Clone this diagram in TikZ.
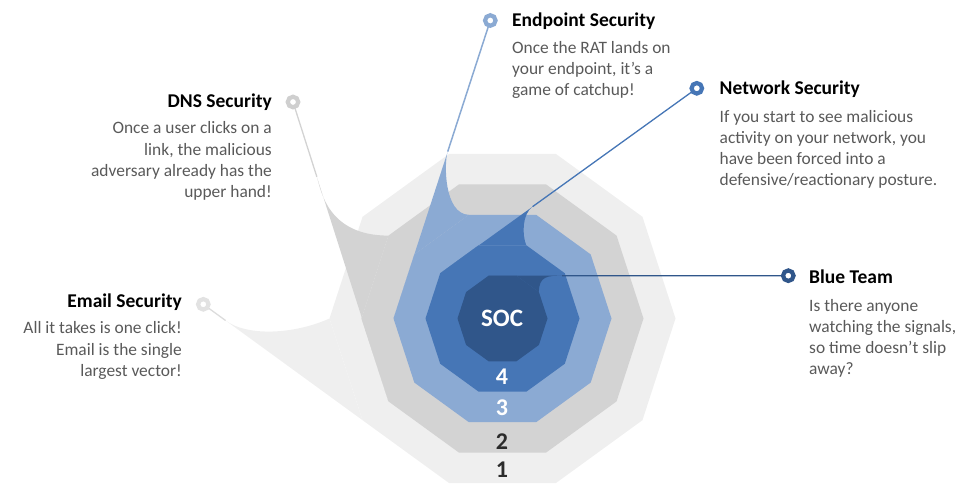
\documentclass[tikz,border=0pt]{standalone}
\usepackage{fontspec}
\setmainfont{Carlito}
\usepackage{xcolor}
\usepackage{tikz}
\usetikzlibrary{calc}

\definecolor{lvla}{HTML}{EFEFEF}
\definecolor{lvlb}{HTML}{D3D3D3}
\definecolor{lvlc}{HTML}{8BAAD3}
\definecolor{lvld}{HTML}{4676B6}
\definecolor{lvle}{HTML}{30568A}
\definecolor{ringa}{HTML}{E2E2E2}
\definecolor{ringb}{HTML}{CFCFCF}
\definecolor{txtgray}{HTML}{595959}
\definecolor{numgray}{HTML}{2B2B2B}

\newcommand\layer[2]{\fill[#2] (#10) \foreach \k in {1,...,9}{ -- (#1\k)} -- cycle;}

\begin{document}
\begin{tikzpicture}[x=1pt, y=1pt,
  ring/.style={circle, fill=white, line width=4.2pt, minimum size=10.5pt, inner sep=0pt},
  title/.style={font=\fontsize{19.5}{23}\selectfont\bfseries, text=black, inner sep=0pt},
  body/.style={font=\fontsize{17.4}{21.1}\selectfont, text=txtgray, inner sep=0pt},
  num/.style={font=\fontsize{24}{24}\selectfont\bfseries, inner sep=0pt}]
  \useasboundingbox (0,0) rectangle (976,497);

  % centre, ring spots and the corners of the five decagons
  \coordinate (C) at (502.5,178.5);
  \coordinate (em) at (203.3,192.7);
  \coordinate (dn) at (293,395);
  \coordinate (ep) at (490.3,476.5);
  \coordinate (nw) at (696.8,408.7);
  \coordinate (bt) at (788.3,221.3);
  \foreach \n/\r in {a/173,b/141,c/109,d/77,e/45}
    \foreach \k in {0,...,9}
      \coordinate (\n\k) at ($(C)+({36*\k}:\r)$);

  % layer 1 + email tail
  \layer{a}{lvla}
  \coordinate (Sem) at ($(em)!0.14!(a6)$);
  \fill[lvla] (em) -- (a6) -- (a5) .. controls (295,163) and (248,160) .. (Sem) -- cycle;
  \draw[lvla!92!black, line width=1.3pt] (em) -- (Sem);

  % layer 2 + dns tail
  \layer{b}{lvlb}
  \coordinate (Sdn) at ($(dn)!0.25!(b6)$);
  \fill[lvlb] (dn) -- (b6) -- (b5) -- (b4) .. controls (328,261.4) and (321,306) .. (Sdn) -- cycle;
  \draw[lvlb, line width=1.3pt] (dn) -- (Sdn);

  % layer 3 + endpoint tail
  \layer{c}{lvlc}
  \coordinate (Sep) at ($(ep)!0.44!(c5)$);
  \fill[lvlc] (ep) -- (c5) -- (c4) -- (c3) .. controls (444,283) and (443.9,333.8) .. (Sep) -- cycle;
  \draw[lvlc, line width=1.5pt] (ep) -- (Sep);

  % layer 4 + network tail
  \layer{d}{lvld}
  \coordinate (Snw) at ($(nw)!0.64!(d4)$);
  \fill[lvld] (nw) -- (d4) -- (d3) -- (d2) .. controls (522,262) and (522,282.8) .. (Snw) -- cycle;
  \draw[lvld, line width=1.3pt] (nw) -- (Snw);

  % soc + blue team tail
  \layer{e}{lvle}
  \coordinate (Sbt) at ($(bt)!0.755!(e3)$);
  \fill[lvle] (bt) -- (e3) -- (e2) -- (e1) .. controls (538.9,221) and (548,221.3) .. (Sbt) -- cycle;
  \draw[lvle, line width=1.3pt] (bt) -- (Sbt);

  % rings
  \node[ring, draw=ringa] (emR) at (em) {};
  \node[ring, draw=ringb] (dnR) at (dn) {};
  \node[ring, draw=lvlc] (epR) at (ep) {};
  \node[ring, draw=lvld] (nwR) at (nw) {};
  \node[ring, draw=lvle] (btR) at (bt) {};

  % labels in the middle
  \node[num, text=white, font=\fontsize{25}{25}\selectfont\bfseries] (soc) at (502,179) {SOC};
  \node[num, text=white] (n4) at (502,120) {4};
  \node[num, text=white] (n3) at (502,89) {3};
  \node[num, text=numgray] (n2) at (502,55) {2};
  \node[num, text=numgray] (n1) at (502,27) {1};

  % texts (body base = baseline of its last line)
  \node[title, anchor=base east] (dnsT) at (272,389) {DNS Security};
  \node[body, align=right, anchor=base east] (dnsB) at ([yshift=-89.3pt]dnsT.base east)
    {Once a user clicks on a\\link, the malicious\\adversary already has the\\upper hand!};
  \node[title, anchor=base east] (emT) at (182,189) {Email Security};
  \node[body, align=right, anchor=base east] (emB) at ([yshift=-68.2pt]emT.base east)
    {All it takes is one click!\\Email is the single\\largest vector!};
  \node[title, anchor=base west] (epT) at (512,470.3) {Endpoint Security};
  \node[body, align=left, anchor=base west] (epB) at ([yshift=-69.2pt]epT.base west)
    {Once the RAT lands on\\your endpoint, it’s a\\game of catchup!};
  \node[title, anchor=base west] (nwT) at (719.5,402.7) {Network Security};
  \node[body, align=left, anchor=base west] (nwB) at ([yshift=-91.3pt]nwT.base west)
    {If you start to see malicious\\activity on your network, you\\have been forced into a\\defensive/reactionary posture.};
  \node[title, anchor=base west] (btT) at (809,213.7) {Blue Team};
  \node[body, align=left, anchor=base west] (btB) at ([yshift=-91.3pt]btT.base west)
    {Is there anyone\\watching the signals,\\so time doesn’t slip\\away?};
\end{tikzpicture}
\end{document}
